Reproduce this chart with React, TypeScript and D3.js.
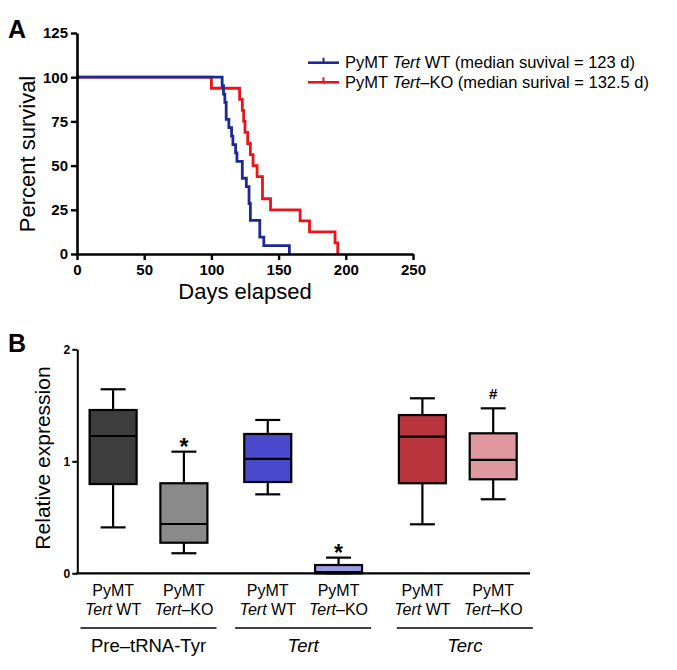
import React, { useEffect, useRef } from 'react'
import * as d3 from 'd3'

// panel A: days of death for each cohort (no censoring seen)
const wtDeaths = [108, 109, 110, 111, 111, 113, 115, 116, 118, 119, 123, 123, 126, 128, 128, 129, 129, 136, 136, 139, 158]
const koDeaths = [100, 121, 123, 124, 125, 127, 129, 131, 134, 138, 138, 144, 166, 173, 192, 194]
const survXTicks = [0, 50, 100, 150, 200, 250]
const survYTicks = [0, 25, 50, 75, 100, 125]
const legendLabels = [
  { geno: 'WT', sep: ' ', text: ' (median suvival = 123 d)' },
  { geno: 'KO', sep: '–', text: ' (median surival = 132.5 d)' },
]

// panel B: box stats [min, q1, median, q3, max]
const groups = ['Pre–tRNA-Tyr', 'Tert', 'Terc']
const genotypes = ['WT', 'KO']
const boxStats = [
  [0.41, 0.797, 1.226, 1.458, 1.643],
  [0.179, 0.273, 0.44, 0.804, 1.086],
  [0.705, 0.815, 1.021, 1.244, 1.369],
  [0, 0, 0.01, 0.074, 0.14],
  [0.4375, 0.804, 1.22, 1.413, 1.5625],
  [0.661, 0.839, 1.012, 1.25, 1.473],
]
const boxMarks = ['', '*', '', '*', '', '#']
const boxColors = ['#3d3d3d', '#8a8a8a', '#4949cc', '#9c9ce4', '#b9353e', '#df989d']
const exprTicks = [0, 1, 2]

const FONT = '"Liberation Sans", Arial, Helvetica, sans-serif'

function kaplanMeier(deaths: number[]) {
  const n = deaths.length
  const days = Array.from(new Set(deaths)).sort((a, b) => a - b)
  const pts: [number, number][] = [[0, 100]]
  let dead = 0
  days.forEach(d => {
    dead += deaths.filter(x => x === d).length
    pts.push([d, (100 * (n - dead)) / n])
  })
  return pts
}

export default function App() {
  const ref = useRef<SVGSVGElement>(null)

  useEffect(() => {
    const svg = d3.select(ref.current)
    svg.selectAll('*').remove()
    svg.attr('font-family', FONT)

    // ---------- panel A ----------
    const x = d3.scaleLinear().domain([0, 250]).range([77, 413])
    const y = d3.scaleLinear().domain([0, 125]).range([254, 33])

    const gA = svg.append('g')

    const line = d3.line<[number, number]>()
      .x(d => x(d[0]))
      .y(d => y(d[1]))
      .curve(d3.curveStepAfter)

    gA.append('path').attr('d', line(kaplanMeier(koDeaths)))
      .attr('fill', 'none').attr('stroke', '#e8141c').attr('stroke-width', 2.8)
    gA.append('path').attr('d', line(kaplanMeier(wtDeaths)))
      .attr('fill', 'none').attr('stroke', '#1f2a90').attr('stroke-width', 2.8)

    const yAxis = gA.append('g').attr('transform', 'translate(77,0)')
      .call(d3.axisLeft(y).tickValues(survYTicks).tickSize(6).tickSizeOuter(0).tickPadding(3))
    const xAxis = gA.append('g').attr('transform', 'translate(0,254)')
      .call(d3.axisBottom(x).tickValues(survXTicks).tickSize(6).tickSizeOuter(0).tickPadding(4))
    ;[yAxis, xAxis].forEach(a => {
      a.select('.domain').attr('stroke', '#000').attr('stroke-width', 2.6)
      a.selectAll('.tick line').attr('stroke', '#000').attr('stroke-width', 2.4)
      a.selectAll('.tick text').attr('fill', '#000').attr('font-size', 15)
        .attr('font-weight', 'bold').attr('font-family', FONT)
    })

    gA.append('text').attr('x', 245).attr('y', 299).attr('text-anchor', 'middle')
      .attr('font-size', 22).text('Days elapsed')
    gA.append('text').attr('transform', 'translate(35,154) rotate(-90)')
      .attr('text-anchor', 'middle').attr('font-size', 22).text('Percent survival')

    gA.append('text').attr('x', 8).attr('y', 38).attr('font-size', 25)
      .attr('font-weight', 'bold').text('A')

    // legend
    const legColors = ['#1f2a90', '#e8141c']
    legendLabels.forEach((l, i) => {
      const ly = 62.7 + i * 19.6
      const lg = gA.append('g')
      lg.append('line').attr('x1', 308).attr('x2', 339).attr('y1', ly).attr('y2', ly)
        .attr('stroke', legColors[i]).attr('stroke-width', 2.6)
      lg.append('line').attr('x1', 323.5).attr('x2', 323.5).attr('y1', ly - 5).attr('y2', ly)
        .attr('stroke', legColors[i]).attr('stroke-width', 2)
      const t = lg.append('text').attr('x', 345).attr('y', ly + 5.5).attr('font-size', 16.5)
      t.append('tspan').text('PyMT ')
      t.append('tspan').attr('font-style', 'italic').text('Tert')
      t.append('tspan').text(l.sep + l.geno + l.text)
    })

    // ---------- panel B ----------
    const yB = d3.scaleLinear().domain([0, 2]).range([573.3, 349.3])
    const gx = d3.scalePoint<string>().domain(groups).range([148.5, 457.8])
    const ix = d3.scalePoint<string>().domain(genotypes).range([-35.4, 35.4])
    const boxW = 47
    const capW = 25

    const gB = svg.append('g')

    gB.append('text').attr('x', 8).attr('y', 352).attr('font-size', 25)
      .attr('font-weight', 'bold').text('B')

    const boxes = groups.flatMap((g, gi) => genotypes.map((k, ki) => ({
      group: g, geno: k, stats: boxStats[gi * 2 + ki], color: boxColors[gi * 2 + ki],
      mark: boxMarks[gi * 2 + ki], cx: (gx(g) as number) + (ix(k) as number),
    })))

    boxes.forEach(b => {
      const [mn, q1, med, q3, mx] = b.stats
      const bg = gB.append('g').attr('stroke', '#000').attr('stroke-width', 2.2)
      bg.append('line').attr('x1', b.cx).attr('x2', b.cx).attr('y1', yB(mx)).attr('y2', yB(mn))
      bg.append('line').attr('x1', b.cx - capW / 2).attr('x2', b.cx + capW / 2).attr('y1', yB(mx)).attr('y2', yB(mx))
      bg.append('line').attr('x1', b.cx - capW / 2).attr('x2', b.cx + capW / 2).attr('y1', yB(mn)).attr('y2', yB(mn))
      bg.append('rect').attr('x', b.cx - boxW / 2).attr('width', boxW)
        .attr('y', yB(q3)).attr('height', yB(q1) - yB(q3)).attr('fill', b.color)
      bg.append('line').attr('x1', b.cx - boxW / 2).attr('x2', b.cx + boxW / 2).attr('y1', yB(med)).attr('y2', yB(med))
      if (b.mark === '*') {
        gB.append('text').attr('x', b.cx).attr('y', yB(mx) + 3).attr('text-anchor', 'middle')
          .attr('font-size', 23).attr('font-weight', 'bold').text('*')
      } else if (b.mark === '#') {
        gB.append('text').attr('x', b.cx).attr('y', yB(mx) - 9).attr('text-anchor', 'middle')
          .attr('font-size', 15).attr('font-weight', 'bold').text('#')
      }
      const t1 = gB.append('text').attr('x', b.cx).attr('y', 596).attr('text-anchor', 'middle').attr('font-size', 16)
      t1.text('PyMT')
      const t2 = gB.append('text').attr('x', b.cx).attr('y', 615).attr('text-anchor', 'middle').attr('font-size', 16)
      t2.append('tspan').attr('font-style', 'italic').text('Tert')
      t2.append('tspan').text(b.geno === 'WT' ? ' WT' : '–KO')
    })

    const yAxB = gB.append('g').attr('transform', 'translate(77.3,0)')
      .call(d3.axisLeft(yB).tickValues(exprTicks).tickFormat(d3.format('d')).tickSize(5).tickSizeOuter(0).tickPadding(2))
    yAxB.select('.domain').attr('stroke', '#000').attr('stroke-width', 2)
    yAxB.selectAll('.tick line').attr('stroke', '#000').attr('stroke-width', 2)
    yAxB.selectAll('.tick text').attr('fill', '#000').attr('font-size', 12)
      .attr('font-weight', 'bold').attr('font-family', FONT)

    gB.append('line').attr('x1', 76.3).attr('x2', 530).attr('y1', yB(0)).attr('y2', yB(0))
      .attr('stroke', '#000').attr('stroke-width', 2.2)

    gB.append('text').attr('transform', 'translate(50,458) rotate(-90)')
      .attr('text-anchor', 'middle').attr('font-size', 21).text('Relative expression')

    groups.forEach((g, gi) => {
      // the last group's underline sits a little right of its boxes in the original
      const c = (gx(g) as number) + (gi === groups.length - 1 ? 7 : 0)
      gB.append('line').attr('x1', c - 68).attr('x2', c + 68).attr('y1', 628).attr('y2', 628)
        .attr('stroke', '#000').attr('stroke-width', 1.6)
      gB.append('text').attr('x', c).attr('y', 651.5).attr('text-anchor', 'middle')
        .attr('font-size', 18.5).attr('font-style', g === 'Pre–tRNA-Tyr' ? 'normal' : 'italic').text(g)
    })
  }, [])

  return (
    <svg ref={ref} width={677} height={670}
      style={{ position: 'absolute', left: 0, top: 0, background: '#fff' }} />
  )
}
